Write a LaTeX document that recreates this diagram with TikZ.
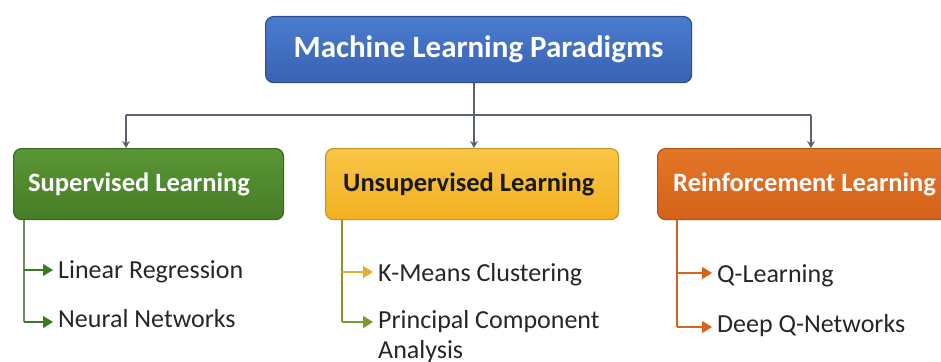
\documentclass[tikz,border=0pt]{standalone}
\usepackage{fontspec}
\setmainfont{Carlito}
\usetikzlibrary{arrows.meta}
\definecolor{bluetop}{HTML}{4A7BD0}
\definecolor{bluebot}{HTML}{3A63B2}
\definecolor{blueedge}{HTML}{2C4E8E}
\definecolor{greentop}{HTML}{5A9636}
\definecolor{greenbot}{HTML}{467C26}
\definecolor{greenedge}{HTML}{3A6620}
\definecolor{yellowtop}{HTML}{F9C646}
\definecolor{yellowbot}{HTML}{F2B020}
\definecolor{yellowedge}{HTML}{C8961E}
\definecolor{orangetop}{HTML}{E47628}
\definecolor{orangebot}{HTML}{D4621A}
\definecolor{orangeedge}{HTML}{B25416}
\definecolor{conn}{HTML}{5A6272}
\definecolor{greenline}{HTML}{6E8E56}
\definecolor{greenhead}{HTML}{3E7A23}
\definecolor{oliveline}{HTML}{8A9228}
\definecolor{olivehead}{HTML}{7E9A2A}
\definecolor{goldhead}{HTML}{E0B030}
\definecolor{orangeline}{HTML}{C9652A}
\definecolor{orangehead}{HTML}{D9621C}
\definecolor{itemtext}{HTML}{262626}
\tikzset{
  catbox/.style={draw, line width=1.2pt, rounded corners=8pt, anchor=north west,
    inner sep=0pt, minimum height=71pt},
  cattext/.style={anchor=west, inner sep=0pt, font=\fontsize{26.5}{30}\selectfont\bfseries},
  item/.style={anchor=base west, inner sep=0pt, text=itemtext,
    font=\fontsize{26}{30}\selectfont, align=flush left},
  conarrow/.style={draw=conn, line width=1.5pt, -{Stealth[length=7pt,width=8pt]}},
  subline/.style={line width=1.6pt},
  tip/.style={-{Triangle[length=10pt,width=12pt]}},
}
\begin{document}
\begin{tikzpicture}[x=1pt,y=-1pt]
\useasboundingbox (0,0) rectangle (941,361);
\clip (0,0) rectangle (941,361);
% title
\node[catbox, draw=blueedge, top color=bluetop, bottom color=bluebot,
  minimum width=426pt, minimum height=66pt, text=white,
  font=\fontsize{31}{34}\selectfont\bfseries] (top) at (265,16) {Machine Learning Paradigms};
% category boxes
\node[catbox, draw=greenedge, top color=greentop, bottom color=greenbot,
  minimum width=270pt] (sup) at (13,148) {};
\node[cattext, text=white] (suptxt) at ([xshift=15pt]sup.west) {Supervised Learning};
\node[catbox, draw=yellowedge, top color=yellowtop, bottom color=yellowbot,
  minimum width=293pt] (uns) at (325,148) {};
\node[cattext, text=black!90] (unstxt) at ([xshift=18pt]uns.west) {Unsupervised Learning};
\node[catbox, draw=orangeedge, top color=orangetop, bottom color=orangebot,
  minimum width=300pt] (rei) at (657,148) {};
\node[cattext, text=white] (reitxt) at ([xshift=16pt]rei.west) {Reinforcement Learning};
% connectors
\coordinate (hub) at (474,115);
\coordinate (hl) at (126,115);
\coordinate (hr) at (811,115);
\draw[draw=conn, line width=1.5pt] (top.south -| hub) -- (hub);
\draw[draw=conn, line width=1.5pt] (hl) -- (hr);
\draw[conarrow] (hl) -- (hl |- sup.north);
\draw[conarrow] (hub) -- (hub |- uns.north);
\draw[conarrow] (hr) -- (hr |- rei.north);
% items
\node[item] (lr) at (58,278) {Linear Regression};
\node[item] (nn) at (58,327) {Neural Networks};
\node[item] (km) at (378,281) {K-Means Clustering};
\node[item] (pca) at (378,358) {Principal Component\\Analysis};
\node[item] (ql) at (717,282) {Q-Learning};
\node[item] (dq) at (717,332) {Deep Q-Networks};
% sub connectors supervised
\coordinate (s0) at (24,220);
\coordinate (s1) at (24,270);
\coordinate (s2) at (24,322);
\draw[subline, draw=greenline] (s0) -- (s2);
\draw[subline, draw=greenline, tip, greenhead] (s1) -- ([xshift=-5pt]s1 -| lr.west);
\draw[subline, draw=greenline, tip, greenhead] (s2) -- ([xshift=-5pt]s2 -| nn.west);
% unsupervised
\coordinate (u0) at (342,220);
\coordinate (u1) at (342,272);
\coordinate (u2) at (342,322);
\draw[subline, draw=oliveline] (u0) -- (u2);
\draw[subline, draw=goldhead!80!oliveline, tip, goldhead] (u1) -- ([xshift=-5pt]u1 -| km.west);
\draw[subline, draw=oliveline, tip, olivehead] (u2) -- ([xshift=-5pt]u2 -| pca.west);
% reinforcement
\coordinate (r0) at (677,220);
\coordinate (r1) at (677,273);
\coordinate (r2) at (677,327);
\draw[subline, draw=orangeline] (r0) -- (r2);
\draw[subline, draw=orangeline, tip, orangehead] (r1) -- ([xshift=-5pt]r1 -| ql.west);
\draw[subline, draw=orangeline, tip, orangehead] (r2) -- ([xshift=-5pt]r2 -| dq.west);
\end{tikzpicture}
\end{document}
